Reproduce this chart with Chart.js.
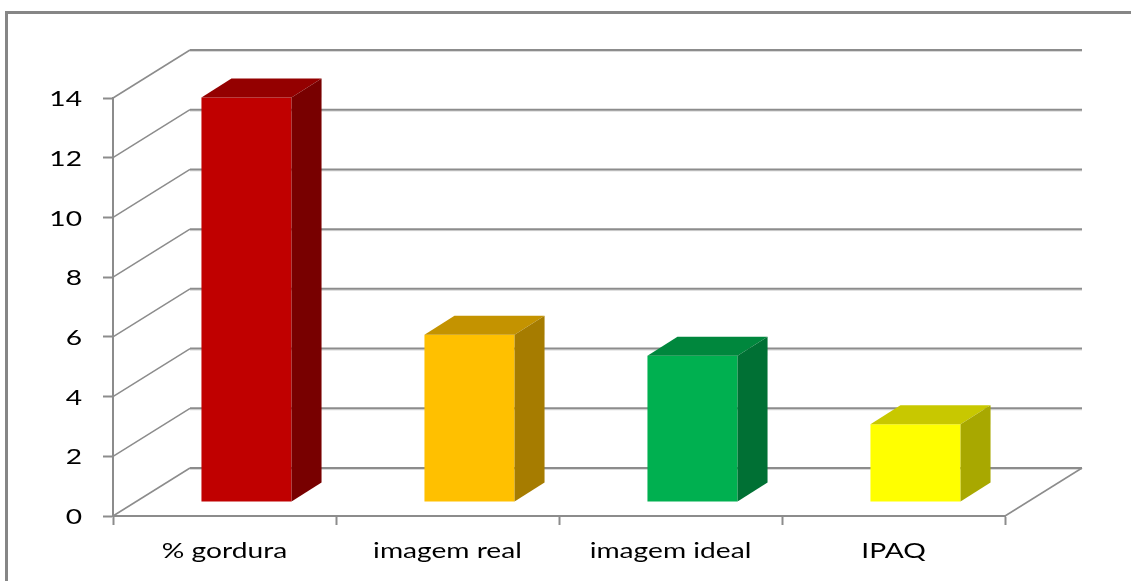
<!DOCTYPE html>
<html>
<head>
<meta charset="utf-8">
<script src="https://cdn.jsdelivr.net/npm/chart.js@4"></script>
<style>
  html, body { margin: 0; padding: 0; background: #fff; }
  canvas { display: block; }
</style>
</head>
<body>
<canvas id="chart" width="1131" height="581"></canvas>
<script>
// categories and values
const categories = ['% gordura', 'imagem real', 'imagem ideal', 'IPAQ'];
const values = [13.55, 5.6, 4.9, 2.6];
const yTicks = [0, 2, 4, 6, 8, 10, 12, 14];

// face colours per bar: front, top, side
const frontColors = ['#C00000', '#FFC000', '#00B050', '#FFFF00'];
const topColors = ['#940000', '#C49300', '#00873D', '#C8C800'];
const sideColors = ['#780000', '#A67C00', '#007034', '#A8A800'];

// oblique projection offsets (pixels)
const WALL = { dx: 77, dy: -48 };   // back wall relative to front axis
const FRONT = { dx: 22, dy: -14 };  // bar front face relative to front axis
const DEPTH = { dx: 30, dy: -19 };  // bar depth

const GRID = '#8c8c8c';
const FONT = '22px Lato, "Open Sans", sans-serif';
const STRETCH = 1.28;

function stretchedText(ctx, text, x, y, align, baseline) {
    ctx.save();
    ctx.translate(x, y);
    ctx.scale(STRETCH, 1);
    ctx.textAlign = align;
    ctx.textBaseline = baseline;
    ctx.fillText(text, 0, 0);
    ctx.restore();
}

const box3d = {
    id: 'box3d',
    beforeDraw(chart) {
        // outer frame
        const ctx = chart.ctx;
        ctx.save();
        ctx.strokeStyle = '#868686';
        ctx.lineWidth = 3;
        ctx.beginPath();
        ctx.moveTo(6.5, chart.height);
        ctx.lineTo(6.5, 12.5);
        ctx.lineTo(chart.width, 12.5);
        ctx.stroke();
        ctx.restore();
    },
    beforeDatasetsDraw(chart) {
        const ctx = chart.ctx;
        const ys = chart.scales.y;
        const area = chart.chartArea;
        ctx.save();
        // back wall gridlines and the diagonals on the left wall
        yTicks.forEach(v => {
            const y = ys.getPixelForValue(v);
            const by = y + WALL.dy;
            ctx.strokeStyle = '#dadada';
            ctx.lineWidth = 1;
            ctx.beginPath();
            ctx.moveTo(area.left + WALL.dx, by + 1.5);
            ctx.lineTo(area.right + WALL.dx, by + 1.5);
            ctx.stroke();
            ctx.strokeStyle = GRID;
            ctx.lineWidth = 2;
            ctx.beginPath();
            ctx.moveTo(area.left + WALL.dx, by);
            ctx.lineTo(area.right + WALL.dx, by);
            ctx.stroke();
            ctx.lineWidth = 1.5;
            ctx.beginPath();
            ctx.moveTo(area.left, y);
            ctx.lineTo(area.left + WALL.dx, by);
            ctx.stroke();
        });
        // right edge of the floor
        const y0 = ys.getPixelForValue(0);
        ctx.beginPath();
        ctx.moveTo(area.right, y0);
        ctx.lineTo(area.right + WALL.dx, y0 + WALL.dy);
        ctx.stroke();
        ctx.restore();

        // bars sit part way back on the floor
        ctx.save();
        ctx.translate(FRONT.dx, FRONT.dy);
    },
    afterDatasetsDraw(chart) {
        const ctx = chart.ctx;
        ctx.restore();
        const meta = chart.getDatasetMeta(0);
        ctx.save();
        meta.data.forEach((bar, i) => {
            const p = bar.getProps(['x', 'y', 'base', 'width'], true);
            const l = p.x - p.width / 2 + FRONT.dx;
            const r = p.x + p.width / 2 + FRONT.dx;
            const t = p.y + FRONT.dy;
            const b = p.base + FRONT.dy;
            // top face
            ctx.fillStyle = topColors[i];
            ctx.beginPath();
            ctx.moveTo(l, t);
            ctx.lineTo(l + DEPTH.dx, t + DEPTH.dy);
            ctx.lineTo(r + DEPTH.dx, t + DEPTH.dy);
            ctx.lineTo(r, t);
            ctx.closePath();
            ctx.fill();
            // side face
            ctx.fillStyle = sideColors[i];
            ctx.beginPath();
            ctx.moveTo(r, t);
            ctx.lineTo(r + DEPTH.dx, t + DEPTH.dy);
            ctx.lineTo(r + DEPTH.dx, b + DEPTH.dy);
            ctx.lineTo(r, b);
            ctx.closePath();
            ctx.fill();
        });
        ctx.restore();
    },
    afterDraw(chart) {
        const ctx = chart.ctx;
        const xs = chart.scales.x;
        const ys = chart.scales.y;
        ctx.save();
        ctx.fillStyle = '#000';
        ctx.font = FONT;
        ys.ticks.forEach((t, i) => {
            stretchedText(ctx, String(t.value), 82, ys.getPixelForTick(i) + 1, 'right', 'middle');
        });
        chart.data.labels.forEach((lbl, i) => {
            stretchedText(ctx, lbl, xs.getPixelForTick(i), 558, 'center', 'alphabetic');
        });
        ctx.restore();
    }
};

new Chart(document.getElementById('chart'), {
    type: 'bar',
    data: {
        labels: categories,
        datasets: [{
            data: values,
            backgroundColor: frontColors,
            borderWidth: 0,
            categoryPercentage: 1,
            barPercentage: 0.404,
            clip: false
        }]
    },
    options: {
        responsive: false,
        animation: false,
        devicePixelRatio: 1,
        layout: { padding: { top: 98, right: 126, bottom: 0, left: 0 } },
        plugins: {
            legend: { display: false },
            tooltip: { enabled: false }
        },
        scales: {
            x: {
                type: 'category',
                offset: true,
                grid: {
                    offset: true,
                    drawOnChartArea: false,
                    drawTicks: true,
                    tickLength: 9,
                    tickColor: GRID,
                    tickWidth: 2
                },
                border: { display: true, color: GRID, width: 2 },
                ticks: { display: false },
                afterFit(scale) { scale.height = 65; }
            },
            y: {
                min: 0,
                max: 14,
                ticks: { display: false, stepSize: 2 },
                grid: {
                    drawOnChartArea: false,
                    drawTicks: true,
                    tickLength: 10,
                    tickColor: GRID,
                    tickWidth: 2
                },
                border: { display: true, color: GRID, width: 2 },
                afterFit(scale) { scale.width = 113; }
            }
        }
    },
    plugins: [box3d]
});
</script>
</body>
</html>
